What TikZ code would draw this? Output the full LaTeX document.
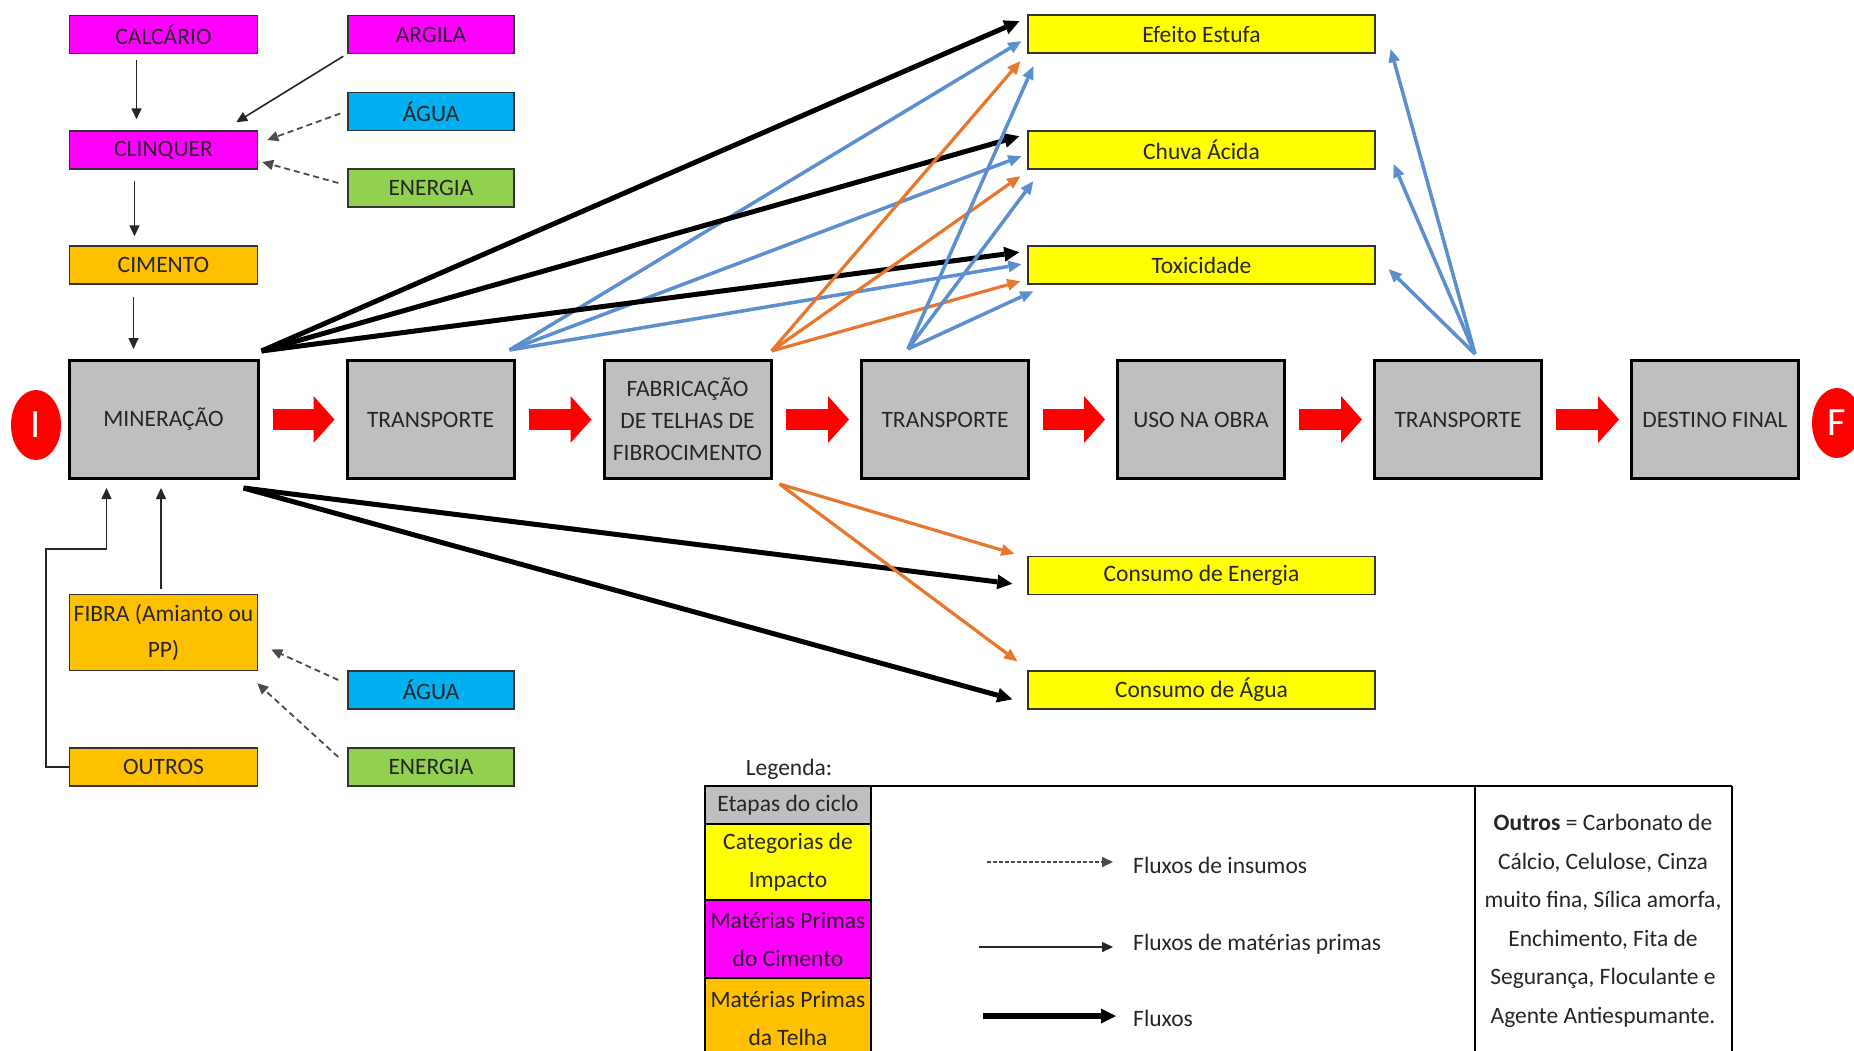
\documentclass[tikz,border=0pt]{standalone}
\usepackage{fontspec}
\setmainfont{Carlito}
\usetikzlibrary{arrows.meta,calc,shapes.geometric}
\definecolor{mag}{HTML}{FF00FF}
\definecolor{cyanb}{HTML}{00B0F0}
\definecolor{greenb}{HTML}{92D050}
\definecolor{orangeb}{HTML}{FFC000}
\definecolor{yel}{HTML}{FFFF00}
\definecolor{grayb}{HTML}{BFBFBF}
\definecolor{bluel}{HTML}{5B8FD0}
\definecolor{orangel}{HTML}{E8762D}
\definecolor{redc}{HTML}{FF0000}
\begin{document}
\begin{tikzpicture}[x=1pt,y=-1pt,
  every node/.style={inner sep=0pt, align=center, text=black!85, font=\fontsize{23.5}{30}\selectfont},
  rbox/.style={draw=black!80, line width=1.5pt, minimum height=38pt},
  lbox/.style={rbox, minimum width=188pt},
  sbox/.style={rbox, minimum width=166pt},
  ybox/.style={rbox, fill=yel, minimum width=347pt},
  stage/.style={draw=black, line width=3pt, fill=grayb, minimum width=167pt, minimum height=118pt},
  thinarr/.style={draw=black!85, line width=1.6pt, -{Triangle[length=11pt,width=10pt]}},
  dasharr/.style={draw=black!70, line width=1.8pt, dash pattern=on 6pt off 4pt, -{Triangle[length=11pt,width=10pt]}},
  thickarr/.style={draw=black, line width=5pt, -{Triangle[length=15pt,width=15pt,line width=0pt]}},
  bluearr/.style={draw=bluel, line width=3.5pt, -{Triangle[length=13pt,width=12pt,line width=0pt]}},
  orarr/.style={draw=orangel, line width=3.2pt, -{Triangle[length=13pt,width=12pt,line width=0pt]}},
  redarr/.style={draw=redc, line width=21pt, -{Triangle[length=21pt,width=47pt,line width=0pt]}, shorten <=13pt, shorten >=11pt},
  endpt/.style={ellipse, fill=redc, minimum width=50pt, minimum height=70pt, text=white, font=\fontsize{40}{40}\selectfont},
  legcell/.style={draw=black, line width=1.5pt, minimum width=166pt, font=\fontsize{23.5}{38}\selectfont}
]
\useasboundingbox (0,0) rectangle (1854,1050);
\clip (0,0) rectangle (1854,1050);
\fill[white] (0,0) rectangle (1854,1050);

% cement raw materials
\node[lbox, fill=mag] (calc) at (163.5,34.5) {CALCÁRIO};
\node[sbox, fill=mag] (arg) at (431,34.5) {ARGILA};
\node[sbox, fill=cyanb] (agua) at (431,111.5) {ÁGUA};
\node[lbox, fill=mag] (clin) at (163.5,150) {CLINQUER};
\node[sbox, fill=greenb] (ener) at (431,188) {ENERGIA};
\node[lbox, fill=orangeb] (cim) at (163.5,265) {CIMENTO};

% life-cycle stages
\node[stage, minimum width=189pt] (m) at (163.5,419.5) {MINERAÇÃO};
\node[stage] (t1) at (430.5,419.5) {TRANSPORTE};
\node[stage, font=\fontsize{23.5}{32}\selectfont] (fab) at (687.5,419.5) {FABRICAÇÃO\\DE TELHAS DE\\FIBROCIMENTO};
\node[stage] (t2) at (945,419.5) {TRANSPORTE};
\node[stage] (uso) at (1201,419.5) {USO NA OBRA};
\node[stage] (t3) at (1458,419.5) {TRANSPORTE};
\node[stage] (dest) at (1715,419.5) {DESTINO FINAL};
\node[endpt] (ini) at (36,425) {I};
\node[endpt] (fim) at (1837,423) {F};

% impact categories
\node[ybox] (ef) at (1201.5,34) {Efeito Estufa};
\node[ybox] (ch) at (1201.5,150) {Chuva Ácida};
\node[ybox] (tx) at (1201.5,265) {Toxicidade};
\node[ybox] (ce) at (1201.5,575.5) {Consumo de Energia};
\node[ybox] (ca) at (1201.5,690) {Consumo de Água};

% tile raw materials
\node[lbox, fill=orangeb, minimum height=76pt, font=\fontsize{23.5}{36}\selectfont] (fib) at (163.5,632.5) {FIBRA (Amianto ou\\PP)};
\node[lbox, fill=orangeb] (out) at (163.5,767) {OUTROS};
\node[sbox, fill=cyanb] (agua2) at (431,690) {ÁGUA};
\node[sbox, fill=greenb] (ener2) at (431,767) {ENERGIA};

% raw material flows
\draw[thinarr, shorten <=6pt, shorten >=11pt] ([xshift=-27pt]calc.south) -- ([xshift=-27pt]clin.north);
\draw[thinarr, shorten <=11pt, shorten >=9pt] ([xshift=-29pt]clin.south) -- ([xshift=-29pt]cim.north);
\draw[thinarr, shorten <=12pt, shorten >=10pt] ([xshift=-30pt]cim.south) -- ([xshift=-30pt]m.north);
\draw[thinarr] ($(arg.south west)+(-4,2)$) -- ($(clin.north east)+(-22,-8)$);
\draw[dasharr] ($(agua.west)+(-7,2)$) -- ($(clin.east)+(9,-10)$);
\draw[dasharr] ($(ener.west)+(-9,-5)$) -- ($(clin.east)+(4,12)$);
\draw[thinarr, shorten <=5pt, shorten >=8pt] ([xshift=-2.5pt]fib.north) -- ([xshift=-2.5pt]m.south);
\draw[thinarr] (out.west) -- ++(-23,0) |- ($(m.south)+(-57,69)$) -- ($(m.south)+(-57,8)$);
\draw[dasharr] ($(agua2.west)+(-9,-10)$) -- ($(fib.east)+(13,17)$);
\draw[dasharr] ($(ener2.west)+(-9,-10)$) -- ($(fib.south east)+(-1,12)$);

% main flow
\draw[redarr] (m) -- (t1);
\draw[redarr] (t1) -- (fab);
\draw[redarr] (fab) -- (t2);
\draw[redarr] (t2) -- (uso);
\draw[redarr] (uso) -- (t3);
\draw[redarr] (t3) -- (dest);

% sources of impact flows
\coordinate (ms) at ($(m.north east)+(2,-8)$);
\coordinate (t1s) at ($(t1.north east)+(-6,-9)$);
\coordinate (fs) at ($(fab.north east)+(-1,-8)$);
\coordinate (t2s) at ($(t2.north)+(-37,-10)$);
\coordinate (t3s) at ($(t3.north)+(17,-5)$);
\coordinate (mb) at ($(m.south east)+(-16,8)$);
\coordinate (fb) at ($(fab.south east)+(7,4)$);

% impact flows
\draw[bluearr] (t1s) -- ($(ef.north west)+(-6,27)$);
\draw[bluearr] (t1s) -- ($(ch.north west)+(-6,26)$);
\draw[bluearr] (t1s) -- ($(tx.north west)+(-6,19)$);
\draw[thickarr] (ms) -- ($(ef.north west)+(-8,7)$);
\draw[thickarr] (ms) -- ($(ch.north west)+(-8,6)$);
\draw[thickarr] (ms) -- ($(tx.north west)+(-8,7)$);
\draw[orarr] (fs) -- ($(ef.north west)+(-7,47)$);
\draw[orarr] (fs) -- ($(ch.north west)+(-7,46)$);
\draw[orarr] (fs) -- ($(tx.north west)+(-7,36)$);
\draw[bluearr] (t2s) -- ($(ef.north west)+(6,52)$);
\draw[bluearr] (t2s) -- ($(ch.north west)+(6,51)$);
\draw[bluearr] (t2s) -- ($(tx.north west)+(6,46)$);
\draw[bluearr] (t3s) -- ($(ef.north east)+(15,35)$);
\draw[bluearr] (t3s) -- ($(ch.north east)+(18,34)$);
\draw[bluearr] (t3s) -- ($(tx.north east)+(13,24)$);
\draw[thickarr] (mb) -- ($(ce.north west)+(-15,28)$);
\draw[thickarr] (mb) -- ($(ca.north west)+(-15,29)$);
\draw[orarr] (fb) -- ($(ce.north west)+(-13,-2)$);
\draw[orarr] (fb) -- ($(ca.north west)+(-10,-9)$);

% legend
\node (leg) at (789,769) {Legenda:};
\draw[line width=2pt] (705,786) -- (1732,786);
\draw[line width=1.5pt] (1475,786) -- (1475,1060);
\draw[line width=1.5pt] (1732,786) -- (1732,1060);
\node[legcell, fill=grayb, minimum height=38pt] (l1) at (788,805) {Etapas do ciclo};
\node[legcell, fill=yel, minimum height=76pt] (l2) at (788,862) {Categorias de\\Impacto};
\node[legcell, fill=mag, minimum height=78pt] (l3) at (788,939) {Matérias Primas\\do Cimento};
\node[legcell, fill=orangeb, minimum height=80pt] (l4) at (788,1018) {Matérias Primas\\da Telha};

\node[anchor=west] (lt1) at (1133,865) {Fluxos de insumos};
\node[anchor=west] (lt2) at (1133,944) {Fluxos de matérias primas};
\node[anchor=west] (lt3) at (1133,1018) {Fluxos};
\coordinate (la1) at (987,862);
\coordinate (la2) at (979,947);
\coordinate (la3) at (983,1016);
\draw[dasharr, dash pattern=on 4pt off 2pt] (la1) -- (la1 -| 1113,0);
\draw[thinarr] (la2) -- (la2 -| 1113,0);
\draw[thickarr, line width=5.5pt] (la3) -- (la3 -| 1116,0);

\node[font=\fontsize{23.5}{38.5}\selectfont] (otx) at (1603,921) {\textbf{Outros} = Carbonato de\\Cálcio, Celulose, Cinza\\muito fina, Sílica amorfa,\\Enchimento, Fita de\\Segurança, Floculante e\\Agente Antiespumante.};
\end{tikzpicture}
\end{document}
